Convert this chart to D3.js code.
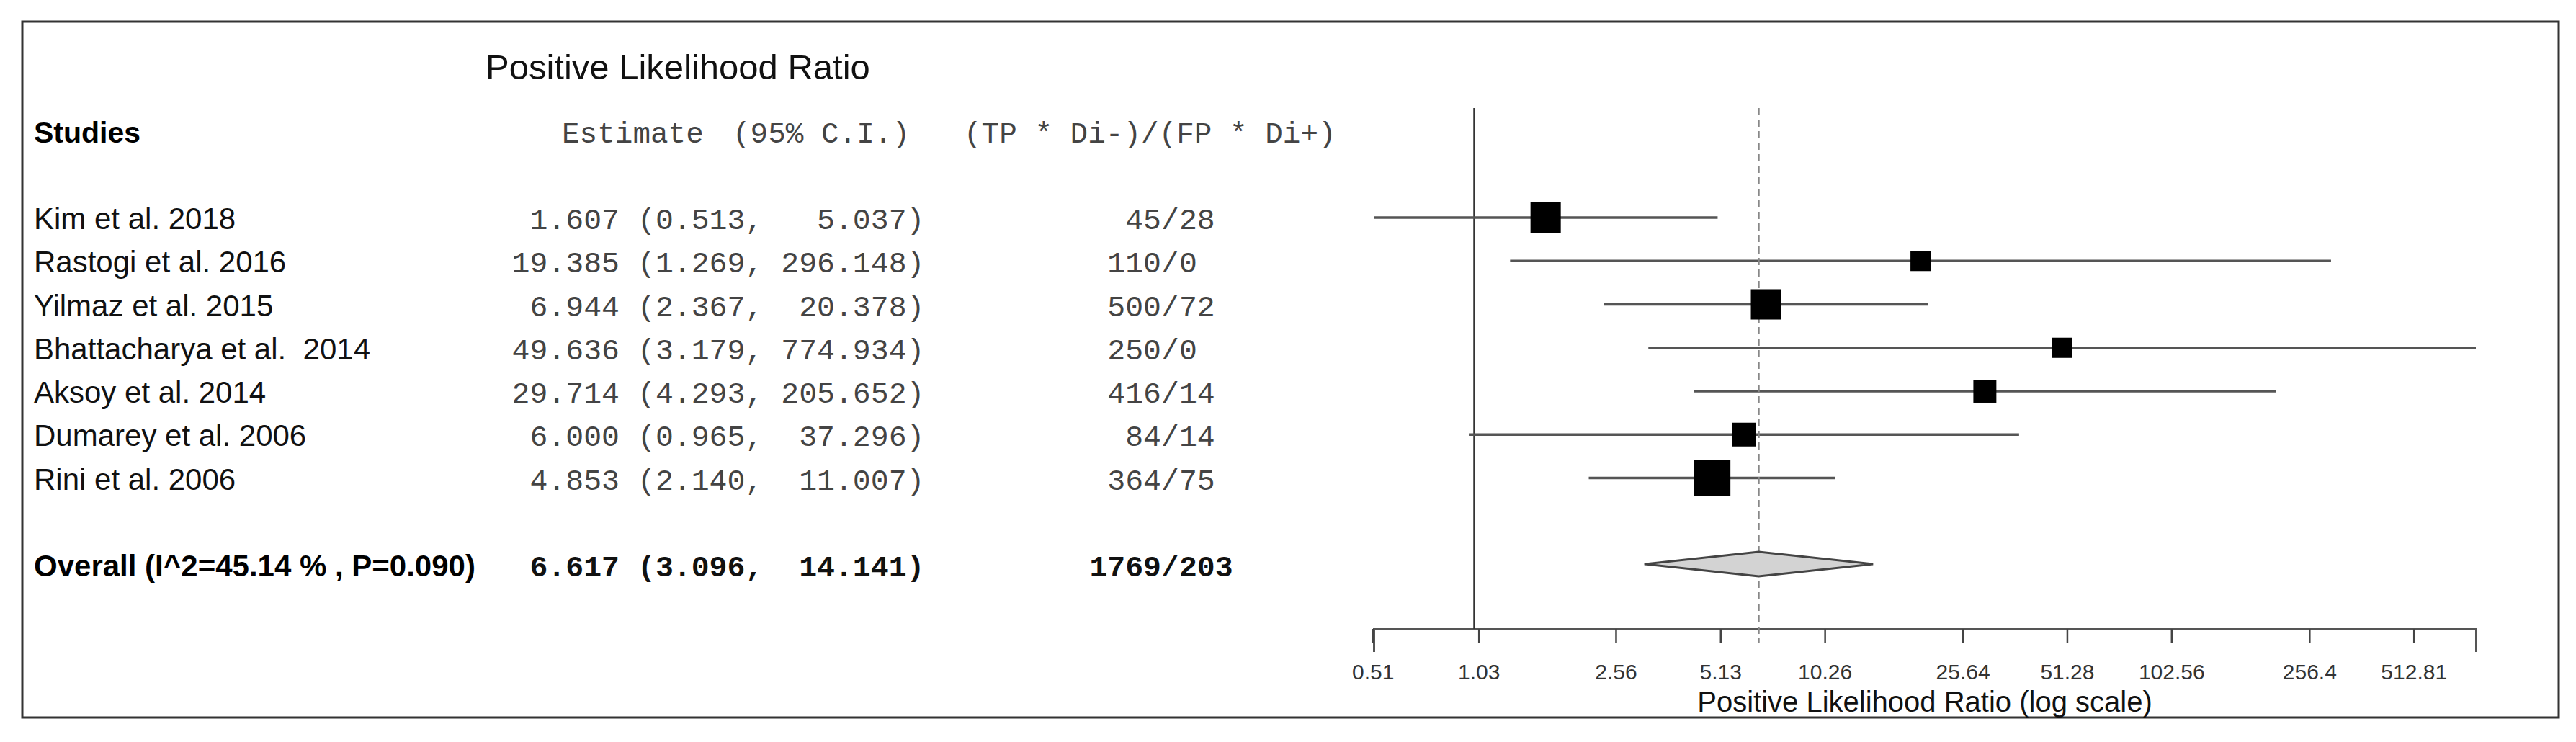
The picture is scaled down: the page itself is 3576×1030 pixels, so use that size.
<!DOCTYPE html>
<html>
<head>
<meta charset="utf-8">
<script src="https://cdn.jsdelivr.net/npm/d3@7"></script>
<style>
    body { margin: 0; background: #fff; }
    text { white-space: pre; }
    .sans { font-family: "Liberation Sans", Arial, sans-serif; }
    .mono { font-family: "Liberation Mono", "Courier New", monospace; }
</style>
</head>
<body>
<div class="forest-plot"></div>
<script>
"use strict";

const studies = ["Kim et al. 2018", "Rastogi et al. 2016", "Yilmaz et al. 2015",
    "Bhattacharya et al.  2014", "Aksoy et al. 2014", "Dumarey et al. 2006", "Rini et al. 2006"];
const estimates = [1.607, 19.385, 6.944, 49.636, 29.714, 6.000, 4.853];
const lower = [0.513, 1.269, 2.367, 3.179, 4.293, 0.965, 2.140];
const upper = [5.037, 296.148, 20.378, 774.934, 205.652, 37.296, 11.007];
const ratios = ["45/28", "110/0", "500/72", "250/0", "416/14", "84/14", "364/75"];
const weights = [18.0, 8.0, 18.0, 8.0, 10.4, 11.1, 26.5];

const overall_label = "Overall (I^2=45.14 % , P=0.090)";
const overall_est = 6.617;
const overall_lower = 3.096;
const overall_upper = 14.141;
const overall_ratio = "1769/203";

const tick_values = [0.51, 1.03, 2.56, 5.13, 10.26, 25.64, 51.28, 102.56, 256.4, 512.81];

window.onload = () => main();

function main() {
    const config = {
        width: 3576,
        height: 1030,
        plot_left: 1907,
        plot_right: 3437,
        axis_y: 873,
        line_top: 150
    };
    create_forest_plot(config);
}

function ci_text(lo, hi) {
    return "(" + lo.toFixed(3) + ", " + hi.toFixed(3).padStart(7) + ")";
}

function create_forest_plot(config) {
    const rows = studies.map((name, i) => ({
        name: name,
        est: estimates[i],
        lo: lower[i],
        hi: upper[i],
        ratio: ratios[i],
        weight: weights[i],
        index: i
    }));

    const svg = d3.select(".forest-plot")
        .append("svg")
        .attr("width", config.width)
        .attr("height", config.height);

    // frame
    svg.append("rect")
        .attr("x", 31).attr("y", 30)
        .attr("width", 3521).attr("height", 966)
        .attr("fill", "none")
        .attr("stroke", "#333")
        .attr("stroke-width", 3);

    const x = d3.scaleLog()
        .domain([d3.min(lower), d3.max(upper)])
        .range([config.plot_left, config.plot_right]);

    // row index -> center of the row
    const y = d3.scaleLinear().domain([0, 8]).range([302, 784]);
    const size = d3.scaleSqrt().domain([0, d3.max(weights)]).range([0, 51]);

    // titles and headers
    svg.append("text").attr("class", "sans")
        .attr("x", 674).attr("y", 110)
        .attr("font-size", 49).attr("fill", "#111")
        .text("Positive Likelihood Ratio");

    svg.append("text").attr("class", "sans")
        .attr("x", 47).attr("y", y(-2) + 16)
        .attr("font-size", 41).attr("font-weight", "bold").attr("fill", "#000")
        .text("Studies");

    const header = svg.append("g").attr("class", "mono")
        .attr("font-size", 41).attr("fill", "#444");
    header.append("text").attr("x", 780).attr("y", y(-2) + 16).text("Estimate");
    header.append("text").attr("x", 1017).attr("y", y(-2) + 16).text("(95% C.I.)");
    header.append("text").attr("x", 1338).attr("y", y(-2) + 16).text("(TP * Di-)/(FP * Di+)");

    // study rows text
    const row_g = svg.selectAll("g.row")
        .data(rows)
        .enter()
        .append("g")
        .attr("class", "row");

    row_g.append("text").attr("class", "sans")
        .attr("x", 47).attr("y", (d) => y(d.index) + 16)
        .attr("font-size", 42).attr("fill", "#111")
        .text((d) => d.name);

    row_g.append("text").attr("class", "mono")
        .attr("x", 860).attr("y", (d) => y(d.index) + 16)
        .attr("text-anchor", "end")
        .attr("font-size", 41.5).attr("fill", "#444")
        .text((d) => d.est.toFixed(3));

    row_g.append("text").attr("class", "mono")
        .attr("x", 885).attr("y", (d) => y(d.index) + 16)
        .attr("font-size", 41.5).attr("fill", "#444")
        .text((d) => ci_text(d.lo, d.hi));

    row_g.append("text").attr("class", "mono")
        .attr("x", 1612).attr("y", (d) => y(d.index) + 16)
        .attr("text-anchor", "end")
        .attr("font-size", 41.5).attr("fill", "#444")
        .text((d) => d.ratio.split("/")[0]);

    row_g.append("text").attr("class", "mono")
        .attr("x", 1612).attr("y", (d) => y(d.index) + 16)
        .attr("font-size", 41.5).attr("fill", "#444")
        .text((d) => "/" + d.ratio.split("/")[1]);

    // overall row text
    const oy = y(8) + 16;
    svg.append("text").attr("class", "sans")
        .attr("x", 47).attr("y", oy)
        .attr("font-size", 42).attr("font-weight", "bold").attr("fill", "#000")
        .text(overall_label);
    const overall_g = svg.append("g").attr("class", "mono")
        .attr("font-size", 41.5).attr("font-weight", "bold").attr("fill", "#111");
    overall_g.append("text").attr("x", 860).attr("y", oy).attr("text-anchor", "end")
        .text(overall_est.toFixed(3));
    overall_g.append("text").attr("x", 885).attr("y", oy)
        .text(ci_text(overall_lower, overall_upper));
    overall_g.append("text").attr("x", 1612).attr("y", oy).attr("text-anchor", "end")
        .text(overall_ratio.split("/")[0]);
    overall_g.append("text").attr("x", 1612).attr("y", oy)
        .text("/" + overall_ratio.split("/")[1]);

    // axis
    const axis = svg.append("g")
        .attr("transform", `translate(0,${config.axis_y})`)
        .call(d3.axisBottom(x)
            .tickValues(tick_values)
            .tickFormat((d) => String(d))
            .tickSize(20)
            .tickSizeOuter(32));
    axis.select(".domain").attr("stroke", "#555").attr("stroke-width", 3);
    axis.selectAll(".tick line").attr("stroke", "#444").attr("stroke-width", 2.5);
    axis.selectAll(".tick text")
        .attr("y", 70).attr("dy", null)
        .attr("font-family", "Liberation Sans, Arial, sans-serif")
        .attr("font-size", 30).attr("fill", "#333");

    svg.append("text").attr("class", "sans")
        .attr("x", (config.plot_left + config.plot_right) / 2).attr("y", 988)
        .attr("text-anchor", "middle")
        .attr("font-size", 40).attr("fill", "#111")
        .text("Positive Likelihood Ratio (log scale)");

    // null line at 1
    svg.append("line")
        .attr("x1", x(1)).attr("x2", x(1))
        .attr("y1", config.line_top).attr("y2", config.axis_y)
        .attr("stroke", "#333").attr("stroke-width", 2.5);

    // confidence intervals
    svg.selectAll("line.ci")
        .data(rows)
        .enter()
        .append("line")
        .attr("class", "ci")
        .attr("x1", (d) => x(d.lo)).attr("x2", (d) => x(d.hi))
        .attr("y1", (d) => y(d.index)).attr("y2", (d) => y(d.index))
        .attr("stroke", "#555").attr("stroke-width", 3.5);

    // pooled estimate dashed line
    svg.append("line")
        .attr("x1", x(overall_est)).attr("x2", x(overall_est))
        .attr("y1", config.line_top).attr("y2", config.axis_y + 20)
        .attr("stroke", "#888").attr("stroke-width", 2.5)
        .attr("stroke-dasharray", "10,6");

    // squares
    svg.selectAll("rect.box")
        .data(rows)
        .enter()
        .append("rect")
        .attr("class", "box")
        .attr("x", (d) => x(d.est) - size(d.weight) / 2)
        .attr("y", (d) => y(d.index) - size(d.weight) / 2)
        .attr("width", (d) => size(d.weight))
        .attr("height", (d) => size(d.weight))
        .attr("fill", "#000");

    // diamond
    const cy = y(8) - 1;
    const diamond = [
        [x(overall_lower), cy],
        [x(overall_est), cy - 17],
        [x(overall_upper), cy],
        [x(overall_est), cy + 17]
    ];
    svg.append("path")
        .attr("d", d3.line()(diamond) + "Z")
        .attr("fill", "#d3d3d3")
        .attr("stroke", "#444")
        .attr("stroke-width", 3);
}
</script>
</body>
</html>
